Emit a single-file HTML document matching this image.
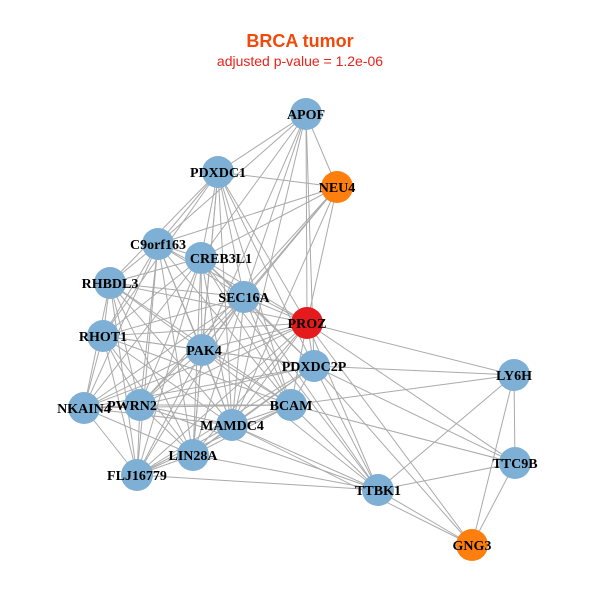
<!DOCTYPE html>
<html><head><meta charset="utf-8"><style>body{margin:0;background:#fff}svg{display:block}</style></head><body>
<svg width="600" height="600" xmlns="http://www.w3.org/2000/svg">
<text x="300" y="47" text-anchor="middle" font-family="Liberation Sans, sans-serif" font-weight="bold" font-size="18" fill="#f04a0a">BRCA tumor</text>
<text x="300" y="66" text-anchor="middle" font-family="Liberation Sans, sans-serif" font-size="14" fill="#e8231a">adjusted p-value = 1.2e-06</text>
<g stroke="#aaaaaa" stroke-width="1">
<line x1="306" y1="114" x2="218" y2="172"/><line x1="306" y1="114" x2="337" y2="187"/><line x1="306" y1="114" x2="201" y2="258"/><line x1="306" y1="114" x2="244" y2="297"/><line x1="306" y1="114" x2="307" y2="323"/><line x1="306" y1="114" x2="202" y2="350"/><line x1="306" y1="114" x2="314" y2="366"/><line x1="306" y1="114" x2="158" y2="244"/><line x1="306" y1="114" x2="232" y2="425"/>
<line x1="218" y1="172" x2="337" y2="187"/><line x1="218" y1="172" x2="158" y2="244"/><line x1="218" y1="172" x2="201" y2="258"/><line x1="218" y1="172" x2="110" y2="283"/><line x1="218" y1="172" x2="244" y2="297"/><line x1="218" y1="172" x2="307" y2="323"/><line x1="218" y1="172" x2="103" y2="336"/><line x1="218" y1="172" x2="202" y2="350"/><line x1="218" y1="172" x2="314" y2="366"/><line x1="218" y1="172" x2="291" y2="405"/><line x1="218" y1="172" x2="232" y2="425"/><line x1="218" y1="172" x2="193" y2="455"/>
<line x1="337" y1="187" x2="158" y2="244"/><line x1="337" y1="187" x2="201" y2="258"/><line x1="337" y1="187" x2="244" y2="297"/><line x1="337" y1="187" x2="307" y2="323"/><line x1="337" y1="187" x2="202" y2="350"/><line x1="337" y1="187" x2="232" y2="425"/><line x1="337" y1="187" x2="140" y2="405"/>
<line x1="158" y1="244" x2="201" y2="258"/><line x1="158" y1="244" x2="110" y2="283"/><line x1="158" y1="244" x2="244" y2="297"/><line x1="158" y1="244" x2="307" y2="323"/><line x1="158" y1="244" x2="103" y2="336"/><line x1="158" y1="244" x2="202" y2="350"/><line x1="158" y1="244" x2="140" y2="405"/><line x1="158" y1="244" x2="84" y2="408"/><line x1="158" y1="244" x2="232" y2="425"/><line x1="158" y1="244" x2="193" y2="455"/><line x1="158" y1="244" x2="137" y2="475"/><line x1="158" y1="244" x2="291" y2="405"/>
<line x1="201" y1="258" x2="110" y2="283"/><line x1="201" y1="258" x2="244" y2="297"/><line x1="201" y1="258" x2="307" y2="323"/><line x1="201" y1="258" x2="103" y2="336"/><line x1="201" y1="258" x2="202" y2="350"/><line x1="201" y1="258" x2="314" y2="366"/><line x1="201" y1="258" x2="140" y2="405"/><line x1="201" y1="258" x2="84" y2="408"/><line x1="201" y1="258" x2="291" y2="405"/><line x1="201" y1="258" x2="232" y2="425"/><line x1="201" y1="258" x2="193" y2="455"/><line x1="201" y1="258" x2="137" y2="475"/><line x1="201" y1="258" x2="378" y2="490"/>
<line x1="110" y1="283" x2="244" y2="297"/><line x1="110" y1="283" x2="307" y2="323"/><line x1="110" y1="283" x2="103" y2="336"/><line x1="110" y1="283" x2="202" y2="350"/><line x1="110" y1="283" x2="140" y2="405"/><line x1="110" y1="283" x2="84" y2="408"/><line x1="110" y1="283" x2="232" y2="425"/><line x1="110" y1="283" x2="193" y2="455"/><line x1="110" y1="283" x2="137" y2="475"/><line x1="110" y1="283" x2="291" y2="405"/>
<line x1="244" y1="297" x2="307" y2="323"/><line x1="244" y1="297" x2="103" y2="336"/><line x1="244" y1="297" x2="202" y2="350"/><line x1="244" y1="297" x2="314" y2="366"/><line x1="244" y1="297" x2="140" y2="405"/><line x1="244" y1="297" x2="84" y2="408"/><line x1="244" y1="297" x2="291" y2="405"/><line x1="244" y1="297" x2="232" y2="425"/><line x1="244" y1="297" x2="193" y2="455"/><line x1="244" y1="297" x2="137" y2="475"/><line x1="244" y1="297" x2="378" y2="490"/>
<line x1="307" y1="323" x2="103" y2="336"/><line x1="307" y1="323" x2="202" y2="350"/><line x1="307" y1="323" x2="314" y2="366"/><line x1="307" y1="323" x2="140" y2="405"/><line x1="307" y1="323" x2="84" y2="408"/><line x1="307" y1="323" x2="291" y2="405"/><line x1="307" y1="323" x2="232" y2="425"/><line x1="307" y1="323" x2="193" y2="455"/><line x1="307" y1="323" x2="137" y2="475"/><line x1="307" y1="323" x2="514" y2="375"/><line x1="307" y1="323" x2="515" y2="463"/><line x1="307" y1="323" x2="378" y2="490"/><line x1="307" y1="323" x2="472" y2="545"/>
<line x1="103" y1="336" x2="202" y2="350"/><line x1="103" y1="336" x2="314" y2="366"/><line x1="103" y1="336" x2="140" y2="405"/><line x1="103" y1="336" x2="84" y2="408"/><line x1="103" y1="336" x2="291" y2="405"/><line x1="103" y1="336" x2="232" y2="425"/><line x1="103" y1="336" x2="193" y2="455"/><line x1="103" y1="336" x2="137" y2="475"/>
<line x1="202" y1="350" x2="314" y2="366"/><line x1="202" y1="350" x2="140" y2="405"/><line x1="202" y1="350" x2="84" y2="408"/><line x1="202" y1="350" x2="291" y2="405"/><line x1="202" y1="350" x2="232" y2="425"/><line x1="202" y1="350" x2="193" y2="455"/><line x1="202" y1="350" x2="137" y2="475"/><line x1="202" y1="350" x2="378" y2="490"/>
<line x1="314" y1="366" x2="140" y2="405"/><line x1="314" y1="366" x2="84" y2="408"/><line x1="314" y1="366" x2="291" y2="405"/><line x1="314" y1="366" x2="232" y2="425"/><line x1="314" y1="366" x2="193" y2="455"/><line x1="314" y1="366" x2="137" y2="475"/><line x1="314" y1="366" x2="514" y2="375"/><line x1="314" y1="366" x2="515" y2="463"/><line x1="314" y1="366" x2="378" y2="490"/><line x1="314" y1="366" x2="472" y2="545"/>
<line x1="140" y1="405" x2="84" y2="408"/><line x1="140" y1="405" x2="291" y2="405"/><line x1="140" y1="405" x2="232" y2="425"/><line x1="140" y1="405" x2="193" y2="455"/><line x1="140" y1="405" x2="137" y2="475"/><line x1="140" y1="405" x2="378" y2="490"/>
<line x1="84" y1="408" x2="232" y2="425"/><line x1="84" y1="408" x2="193" y2="455"/><line x1="84" y1="408" x2="137" y2="475"/><line x1="84" y1="408" x2="291" y2="405"/>
<line x1="291" y1="405" x2="232" y2="425"/><line x1="291" y1="405" x2="193" y2="455"/><line x1="291" y1="405" x2="137" y2="475"/><line x1="291" y1="405" x2="514" y2="375"/><line x1="291" y1="405" x2="515" y2="463"/><line x1="291" y1="405" x2="378" y2="490"/>
<line x1="232" y1="425" x2="193" y2="455"/><line x1="232" y1="425" x2="137" y2="475"/><line x1="232" y1="425" x2="378" y2="490"/><line x1="232" y1="425" x2="472" y2="545"/>
<line x1="193" y1="455" x2="137" y2="475"/><line x1="193" y1="455" x2="378" y2="490"/><line x1="137" y1="475" x2="378" y2="490"/>
<line x1="514" y1="375" x2="378" y2="490"/><line x1="514" y1="375" x2="515" y2="463"/><line x1="514" y1="375" x2="472" y2="545"/>
<line x1="515" y1="463" x2="378" y2="490"/><line x1="515" y1="463" x2="472" y2="545"/><line x1="378" y1="490" x2="472" y2="545"/>
</g>
<g stroke="none">
<circle cx="306" cy="114" r="16" fill="#7eb0d5"/>
<circle cx="218" cy="172" r="16" fill="#7eb0d5"/>
<circle cx="337" cy="187" r="16" fill="#ff7f0e"/>
<circle cx="158" cy="244" r="16" fill="#7eb0d5"/>
<circle cx="201" cy="258" r="16" fill="#7eb0d5"/>
<circle cx="110" cy="283" r="16" fill="#7eb0d5"/>
<circle cx="244" cy="297" r="16" fill="#7eb0d5"/>
<circle cx="307" cy="323" r="16" fill="#e41a1c"/>
<circle cx="103" cy="336" r="16" fill="#7eb0d5"/>
<circle cx="202" cy="350" r="16" fill="#7eb0d5"/>
<circle cx="314" cy="366" r="16" fill="#7eb0d5"/>
<circle cx="514" cy="375" r="16" fill="#7eb0d5"/>
<circle cx="140" cy="405" r="16" fill="#7eb0d5"/>
<circle cx="291" cy="405" r="16" fill="#7eb0d5"/>
<circle cx="84" cy="408" r="16" fill="#7eb0d5"/>
<circle cx="232" cy="425" r="16" fill="#7eb0d5"/>
<circle cx="193" cy="455" r="16" fill="#7eb0d5"/>
<circle cx="137" cy="475" r="16" fill="#7eb0d5"/>
<circle cx="515" cy="463" r="16" fill="#7eb0d5"/>
<circle cx="378" cy="490" r="16" fill="#7eb0d5"/>
<circle cx="472" cy="545" r="16" fill="#ff7f0e"/>
</g>
<g font-family="Liberation Serif, serif" font-weight="bold" font-size="14" fill="#000" text-anchor="middle">
<text x="306" y="119">APOF</text><text x="218" y="177">PDXDC1</text><text x="337" y="192">NEU4</text>
<text x="158" y="249">C9orf163</text><text x="221" y="263">CREB3L1</text><text x="110" y="288">RHBDL3</text>
<text x="244" y="302">SEC16A</text><text x="307" y="328">PROZ</text><text x="103" y="341">RHOT1</text>
<text x="204" y="355">PAK4</text><text x="314" y="371">PDXDC2P</text><text x="514" y="380">LY6H</text>
<text x="132" y="410">PWRN2</text><text x="291" y="410">BCAM</text><text x="84" y="413">NKAIN4</text>
<text x="232" y="430">MAMDC4</text><text x="193" y="460">LIN28A</text><text x="137" y="480">FLJ16779</text>
<text x="515" y="468">TTC9B</text><text x="378" y="495">TTBK1</text><text x="472" y="550">GNG3</text>
</g>
</svg>
</body></html>
